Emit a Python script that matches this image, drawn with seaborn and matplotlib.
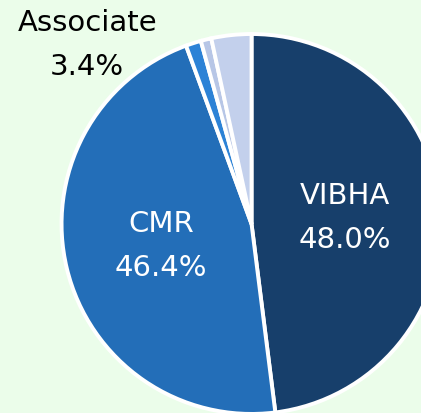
import matplotlib
matplotlib.use("Agg")
import matplotlib.pyplot as plt
import seaborn as sns

# shareholding split
holders = ["VIBHA", "CMR", "Employees", "Others", "Associate"]
shares = [48.0, 46.4, 1.3, 0.9, 3.4]
colors = ["#173F6B", "#236EB8", "#2C82D6", "#B7C6E6", "#C3D0EC"]
inner_labels = ["VIBHA", "CMR"]

bg = "#EBFDEA"

sns.set_style("white")
plt.rcParams["font.family"] = ["DejaVu Sans"]

fig = plt.figure(figsize=(4.21, 4.13), dpi=100, facecolor=bg)
ax = fig.add_axes([0, 0, 1, 1])
ax.set_facecolor(bg)

labels = []
for name, val in zip(holders, shares):
    if name in inner_labels:
        labels.append(f"{name}\n{val:.1f}%")
    else:
        labels.append("")

wedges, texts = ax.pie(
    shares,
    labels=labels,
    colors=colors,
    startangle=90,
    counterclock=False,
    labeldistance=0.49,
    wedgeprops=dict(edgecolor="white", linewidth=2.8),
    textprops=dict(color="white", fontsize=21, ha="center", va="center",
                   linespacing=1.72),
)

# outside label for the associate slice
assoc = holders.index("Associate")
ax.text(-0.865, 0.94, f"{holders[assoc]}\n{shares[assoc]:.1f}%",
        color="black", fontsize=21, ha="center", va="center", linespacing=1.72)

ax.set_aspect("auto")
ax.set_xlim(-1.324, 0.892)
ax.set_ylim(-0.995, 1.179)
ax.axis("off")

fig.savefig("out.png", dpi=100, facecolor=bg)
plt.close(fig)
